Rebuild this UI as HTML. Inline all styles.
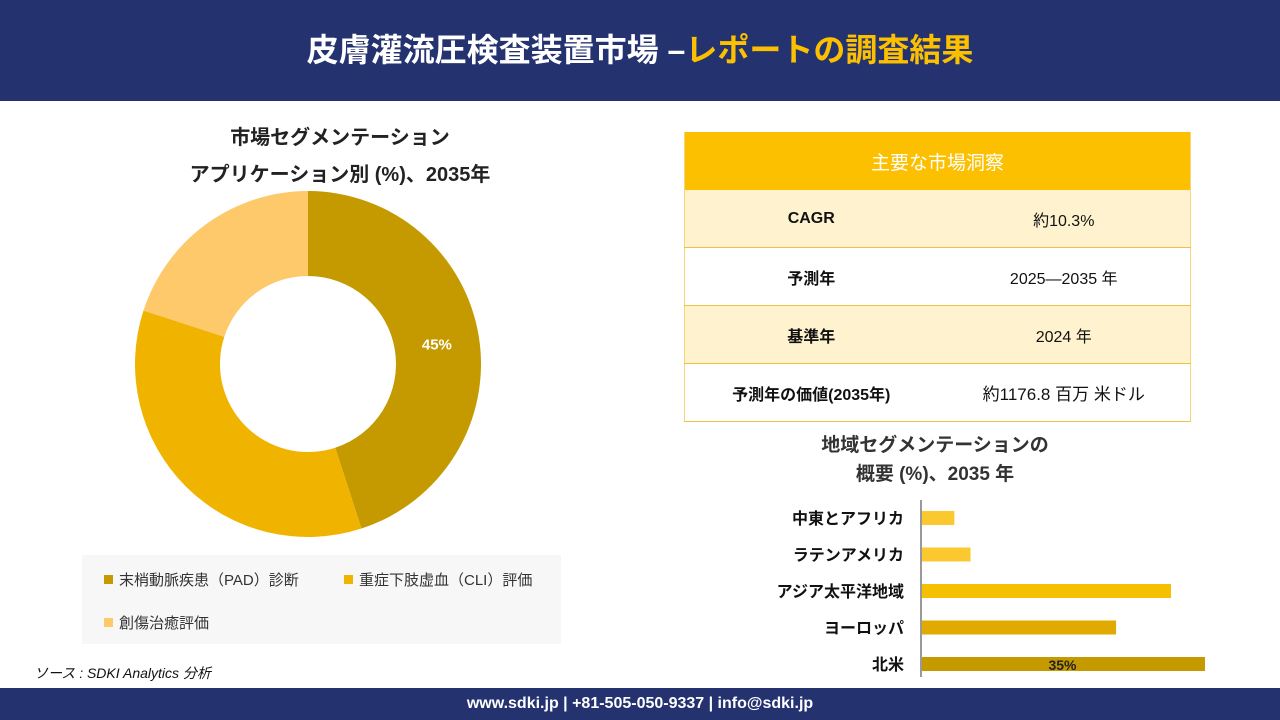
<!DOCTYPE html>
<html><head><meta charset="utf-8">
<style>
body{margin:0;width:1280px;height:720px;position:relative;background:#fff;font-family:"Liberation Sans","Noto Sans CJK JP",sans-serif;overflow:hidden}
.hdr{position:absolute;left:0;top:0;width:1280px;height:101px;background:#243270;color:#fff;font-size:32px;font-weight:bold;text-align:center;line-height:101px}
.hdr span{color:#fcc000}
.ftr{position:absolute;left:0;top:688px;width:1280px;height:32px;background:#243270;color:#fff;font-size:16px;font-weight:bold;text-align:center;line-height:32px}
.t{position:absolute;text-align:center;font-weight:bold;color:#222}
table{position:absolute;left:684px;top:132px;width:507px;border-collapse:collapse;font-size:16px;color:#111;border-left:1px solid #f5d67a;border-right:1px solid #f5d67a}
td{border-bottom:1px solid #f0c040;text-align:center;height:57px;padding:0}
.leg{position:absolute;left:82px;top:555px;width:479px;height:89px;background:#f7f7f7;font-size:15px;color:#333}
.li{position:absolute;display:flex;align-items:center}
.sw{width:9px;height:9px;margin-right:6px}
</style></head><body>
<div class="hdr">皮膚灌流圧検査装置市場 –<span>レポートの調査結果</span></div>
<div class="t" style="left:150px;top:120px;width:380px;font-size:20px;line-height:37px">市場セグメンテーション<br>アプリケーション別 (%)、2035年</div>
<svg id="donut" style="position:absolute;left:0;top:0" width="640" height="560"></svg>
<div class="leg">
<div class="li" style="left:22px;top:14px"><div class="sw" style="background:#c49a00"></div>末梢動脈疾患（PAD）診断</div>
<div class="li" style="left:262px;top:14px"><div class="sw" style="background:#f0b400"></div>重症下肢虚血（CLI）評価</div>
<div class="li" style="left:22px;top:57px"><div class="sw" style="background:#fdc96a"></div>創傷治癒評価</div>
</div>
<div style="position:absolute;left:34px;top:663px;font-size:14px;font-style:italic;color:#111">ソース : SDKI Analytics 分析</div>
<table>
<tr><td colspan="2" style="background:#fcc000;color:#fff;font-size:19px;border-bottom:none;height:58px">主要な市場洞察</td></tr>
<tr style="background:#fff3cf"><td style="font-weight:bold;width:50%">CAGR</td><td>約10.3%</td></tr>
<tr><td style="font-weight:bold">予測年</td><td>2025—2035 年</td></tr>
<tr style="background:#fff3cf"><td style="font-weight:bold">基準年</td><td>2024 年</td></tr>
<tr><td style="font-weight:bold">予測年の価値(2035年)</td><td style="font-size:17px">約1176.8 百万 米ドル</td></tr>
</table>
<div class="t" style="left:780px;top:431px;width:310px;font-size:19px;line-height:29px;color:#333">地域セグメンテーションの<br>概要 (%)、2035 年</div>
<svg id="bars" style="position:absolute;left:0;top:0" width="1280" height="688"></svg>
<div class="ftr">www.sdki.jp | +81-505-050-9337 | info@sdki.jp</div>
<script>
const segNames=['PAD','CLI','Wound'];
const segValues=[45,35,20];
const segColors=['#c49a00','#f0b400','#fdc96a'];
const regions=['中東とアフリカ','ラテンアメリカ','アジア太平洋地域','ヨーロッパ','北米'];
const regionValues=[4,6,30.8,24,35];
const regionColors=['#fcc830','#fcc830','#f5c000','#e0aa00','#c49a00'];
const NS='http://www.w3.org/2000/svg';
const d=document.getElementById('donut');
const cx=308,cy=364,R=173,r=88;
let tot=segValues.reduce((a,b)=>a+b,0),acc=0;
function pt(a,rad){return [cx+rad*Math.sin(a),cy-rad*Math.cos(a)];}
segValues.forEach((v,i)=>{
 const a0=acc/tot*2*Math.PI;acc+=v;const a1=acc/tot*2*Math.PI;
 const lg=(a1-a0)>Math.PI?1:0;
 const [x0,y0]=pt(a0,R),[x1,y1]=pt(a1,R),[x2,y2]=pt(a1,r),[x3,y3]=pt(a0,r);
 const p=document.createElementNS(NS,'path');
 p.setAttribute('d',`M${x0},${y0}A${R},${R} 0 ${lg} 1 ${x1},${y1}L${x2},${y2}A${r},${r} 0 ${lg} 0 ${x3},${y3}Z`);
 p.setAttribute('fill',segColors[i]);
 
 
 d.appendChild(p);
 if(i===0){const am=(a0+a1)/2;const [tx,ty]=pt(am,(R+r)/2);
  const t=document.createElementNS(NS,'text');t.setAttribute('x',tx);t.setAttribute('y',ty+6);
  t.setAttribute('text-anchor','middle');t.setAttribute('fill','#fff');t.setAttribute('font-size','15');t.setAttribute('font-weight','bold');
  t.textContent=v+'%';
  
  
  d.appendChild(t);}
});
const b=document.getElementById('bars');
const x0=921,sc=283/35,yTop=518,step=36.5,bh=14;
const ax=document.createElementNS(NS,'line');
ax.setAttribute('x1',x0);ax.setAttribute('x2',x0);ax.setAttribute('y1',500);ax.setAttribute('y2',677);ax.setAttribute('stroke','#333');


b.appendChild(ax);
regions.forEach((n,i)=>{
 const y=yTop+i*step;
 const rc=document.createElementNS(NS,'rect');
 rc.setAttribute('x',x0+1);rc.setAttribute('y',y-bh/2);rc.setAttribute('width',regionValues[i]*sc);rc.setAttribute('height',bh);rc.setAttribute('fill',regionColors[i]);
 
 
 b.appendChild(rc);
 const t=document.createElementNS(NS,'text');
 t.setAttribute('x',904);t.setAttribute('y',y+6);t.setAttribute('text-anchor','end');t.setAttribute('font-size','16');t.setAttribute('font-weight','bold');t.setAttribute('fill','#111');
 t.textContent=n;
 
 
 b.appendChild(t);
 if(i===regions.length-1){const v=document.createElementNS(NS,'text');
  v.setAttribute('x',x0+regionValues[i]*sc/2);v.setAttribute('y',y+6);v.setAttribute('text-anchor','middle');v.setAttribute('font-size','14');v.setAttribute('font-weight','bold');v.setAttribute('fill','#222');
  v.textContent=regionValues[i]+'%';
  
  
  b.appendChild(v);}
});
</script>
</body></html>
